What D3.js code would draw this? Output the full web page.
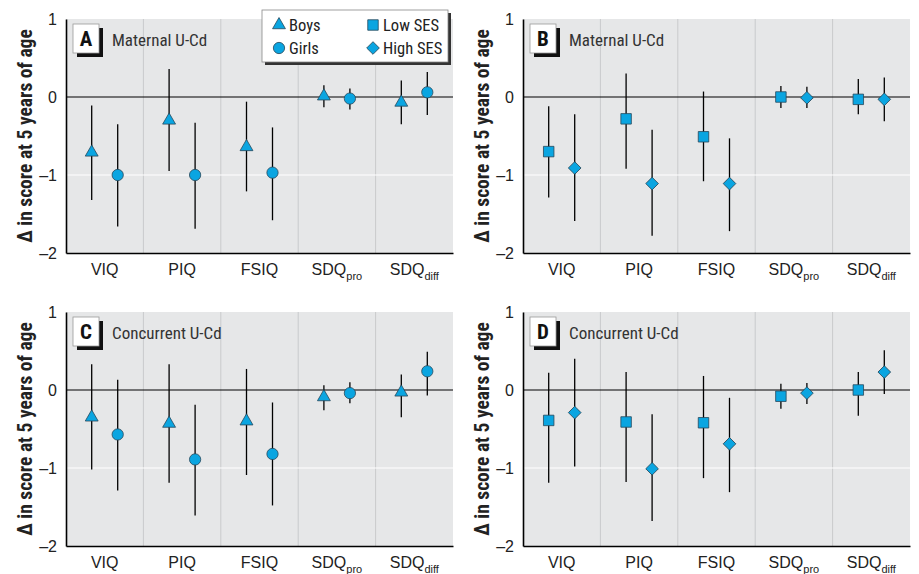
<!DOCTYPE html>
<html>
<head>
<meta charset="utf-8">
<script src="https://cdn.jsdelivr.net/npm/d3@7"></script>
<style>
  body { margin: 0; background: #fff; }
  svg { display: block; font-family: "Liberation Sans Narrow", "Arial Narrow", "Roboto Condensed", sans-serif; }
</style>
</head>
<body>
<div id="chart"></div>
<script>
// categories and tick labels
const categories = ["VIQ", "PIQ", "FSIQ", "SDQpro", "SDQdiff"];
const categoryMain = ["VIQ", "PIQ", "FSIQ", "SDQ", "SDQ"];
const categorySub = ["", "", "", "pro", "diff"];
const yTicks = [1, 0, -1, -2];

// A: maternal U-Cd, by sex
const maternalBoys = [-0.71, -0.30, -0.64, 0.01, -0.07];
const maternalBoysLo = [-1.32, -0.95, -1.21, -0.13, -0.35];
const maternalBoysHi = [-0.11, 0.36, -0.06, 0.15, 0.21];
const maternalGirls = [-1.00, -1.00, -0.97, -0.02, 0.06];
const maternalGirlsLo = [-1.66, -1.69, -1.58, -0.16, -0.23];
const maternalGirlsHi = [-0.35, -0.33, -0.39, 0.11, 0.32];

// B: maternal U-Cd, by SES
const maternalLow = [-0.70, -0.28, -0.51, 0.00, -0.03];
const maternalLowLo = [-1.29, -0.92, -1.08, -0.14, -0.22];
const maternalLowHi = [-0.12, 0.30, 0.07, 0.14, 0.23];
const maternalHigh = [-0.91, -1.11, -1.11, -0.01, -0.03];
const maternalHighLo = [-1.59, -1.78, -1.72, -0.14, -0.31];
const maternalHighHi = [-0.22, -0.42, -0.53, 0.13, 0.25];

// C: concurrent U-Cd, by sex
const concurrentBoys = [-0.35, -0.43, -0.40, -0.09, -0.03];
const concurrentBoysLo = [-1.02, -1.19, -1.09, -0.26, -0.35];
const concurrentBoysHi = [0.33, 0.33, 0.27, 0.06, 0.20];
const concurrentGirls = [-0.57, -0.89, -0.82, -0.04, 0.24];
const concurrentGirlsLo = [-1.29, -1.61, -1.48, -0.17, -0.07];
const concurrentGirlsHi = [0.13, -0.19, -0.16, 0.10, 0.49];

// D: concurrent U-Cd, by SES
const concurrentLow = [-0.39, -0.41, -0.42, -0.08, 0.00];
const concurrentLowLo = [-1.19, -1.18, -1.13, -0.24, -0.33];
const concurrentLowHi = [0.22, 0.23, 0.18, 0.08, 0.23];
const concurrentHigh = [-0.29, -1.01, -0.69, -0.04, 0.23];
const concurrentHighLo = [-0.98, -1.68, -1.31, -0.18, -0.05];
const concurrentHighHi = [0.40, -0.31, -0.10, 0.09, 0.51];

const svg = d3.select("#chart").append("svg")
    .attr("width", 919)
    .attr("height", 574);

const W = 387, H = 234;
const fill = "#0aa5e1", stroke = "#27485a";

const shapes = {
  Boys: d3.symbol(d3.symbolTriangle, 72),
  Girls: d3.symbol(d3.symbolCircle, 100),
  "Low SES": d3.symbol(d3.symbolSquare, 110),
  "High SES": d3.symbol(d3.symbolSquare, 80)
};
function marker(sel, name) {
  sel.append("path")
    .attr("d", shapes[name]())
    .attr("transform", name === "High SES" ? "rotate(45)" : null)
    .attr("fill", fill)
    .attr("stroke", stroke)
    .attr("stroke-width", 0.8);
}

const panels = [
  {letter: "A", title: "Maternal U-Cd", left: 66, top: 19,
   series: [
     {name: "Boys", est: maternalBoys, lo: maternalBoysLo, hi: maternalBoysHi},
     {name: "Girls", est: maternalGirls, lo: maternalGirlsLo, hi: maternalGirlsHi}]},
  {letter: "B", title: "Maternal U-Cd", left: 523, top: 19,
   series: [
     {name: "Low SES", est: maternalLow, lo: maternalLowLo, hi: maternalLowHi},
     {name: "High SES", est: maternalHigh, lo: maternalHighLo, hi: maternalHighHi}]},
  {letter: "C", title: "Concurrent U-Cd", left: 66, top: 312,
   series: [
     {name: "Boys", est: concurrentBoys, lo: concurrentBoysLo, hi: concurrentBoysHi},
     {name: "Girls", est: concurrentGirls, lo: concurrentGirlsLo, hi: concurrentGirlsHi}]},
  {letter: "D", title: "Concurrent U-Cd", left: 523, top: 312,
   series: [
     {name: "Low SES", est: concurrentLow, lo: concurrentLowLo, hi: concurrentLowHi},
     {name: "High SES", est: concurrentHigh, lo: concurrentHighLo, hi: concurrentHighHi}]}
];

const x = d3.scaleBand().domain(categories).range([0, W]);
const y = d3.scaleLinear().domain([-2, 1]).range([H, 0]);
const tickFmt = d => d < 0 ? "\u2013" + Math.abs(d) : String(d);

panels.forEach(p => {
  const g = svg.append("g").attr("transform", `translate(${p.left}, ${p.top})`);
  const x1 = d3.scalePoint().domain(p.series.map(s => s.name))
      .range([x.bandwidth() / 2 - 13, x.bandwidth() / 2 + 13]);

  g.append("rect").attr("width", W).attr("height", H).attr("fill", "#e6e7e8");

  // category separators
  g.selectAll(".sep").data(categories.slice(1)).join("line")
    .attr("x1", d => x(d)).attr("x2", d => x(d))
    .attr("y1", 0).attr("y2", H)
    .attr("stroke", "#c9cacc").attr("stroke-width", 1);

  g.append("line").attr("x1", 0).attr("x2", W)
    .attr("y1", y(-1)).attr("y2", y(-1))
    .attr("stroke", "#fff").attr("stroke-width", 1.2);
  g.append("line").attr("x1", 0).attr("x2", W)
    .attr("y1", y(0)).attr("y2", y(0))
    .attr("stroke", "#000").attr("stroke-width", 1.2);

  // y axis
  const ya = g.append("g").call(d3.axisLeft(y).tickValues(yTicks).tickFormat(tickFmt)
      .tickSize(0).tickSizeOuter(0).tickPadding(9));
  ya.select(".domain").attr("stroke", "#000").attr("stroke-width", 1.6);
  ya.selectAll("text").attr("font-size", 16).attr("fill", "#222").attr("font-family", null);

  // x axis
  const xa = g.append("g").attr("transform", `translate(0, ${H})`)
    .call(d3.axisBottom(x).tickSize(0).tickSizeOuter(0).tickPadding(0));
  xa.select(".domain").attr("stroke", "#000").attr("stroke-width", 1.6);
  xa.selectAll("text").each(function(d, i) {
    const t = d3.select(this).text(null)
      .attr("dy", null).attr("y", 22)
      .attr("font-size", 16).attr("fill", "#222").attr("font-family", null);
    t.append("tspan").text(categoryMain[i]);
    if (categorySub[i]) {
      t.append("tspan").text(categorySub[i]).attr("font-size", 11).attr("dy", 5);
    }
  });

  // error bars and markers
  p.series.forEach(s => {
    const sg = g.append("g");
    sg.selectAll("line").data(categories).join("line")
      .attr("x1", d => x(d) + x1(s.name)).attr("x2", d => x(d) + x1(s.name))
      .attr("y1", (d, i) => y(s.lo[i])).attr("y2", (d, i) => y(s.hi[i]))
      .attr("stroke", "#000").attr("stroke-width", 1.3);
    sg.selectAll("g").data(categories).join("g")
      .attr("transform", (d, i) => `translate(${x(d) + x1(s.name)}, ${y(s.est[i])})`)
      .each(function() { marker(d3.select(this), s.name); });
  });

  // panel letter box
  g.append("rect").attr("x", 11).attr("y", 9).attr("width", 26).attr("height", 29).attr("fill", "#111");
  g.append("rect").attr("x", 7).attr("y", 5).attr("width", 26).attr("height", 29)
    .attr("fill", "#fff").attr("stroke", "#999").attr("stroke-width", 0.8);
  g.append("text").attr("x", 20).attr("y", 27).attr("text-anchor", "middle")
    .attr("font-size", 21).attr("font-weight", "bold").attr("fill", "#111").text(p.letter);
  g.append("text").attr("x", 46).attr("y", 27)
    .attr("font-size", 17).attr("fill", "#333").text(p.title);

  // y title
  svg.append("text")
    .attr("transform", `translate(${p.left - 34}, ${p.top + H / 2}) rotate(-90)`)
    .attr("text-anchor", "middle")
    .attr("font-size", 19.5).attr("font-weight", "bold").attr("fill", "#222")
    .text("\u0394 in score at 5 years of age");
});

// legend
const legendNames = ["Boys", "Girls", "Low SES", "High SES"];
const lg = svg.append("g").attr("transform", "translate(262, 10)");
lg.append("rect").attr("x", 3).attr("y", 3).attr("width", 186).attr("height", 52).attr("fill", "#333");
lg.append("rect").attr("width", 186).attr("height", 52)
  .attr("fill", "#fff").attr("stroke", "#888").attr("stroke-width", 0.8);
legendNames.forEach((n, i) => {
  const col = Math.floor(i / 2), row = i % 2;
  const item = lg.append("g").attr("transform", `translate(${17 + col * 94}, ${15 + row * 23})`);
  marker(item, n);
  item.append("text").attr("x", 10).attr("y", 6)
    .attr("font-size", 16.5).attr("fill", "#222").text(n);
});
</script>
</body>
</html>
